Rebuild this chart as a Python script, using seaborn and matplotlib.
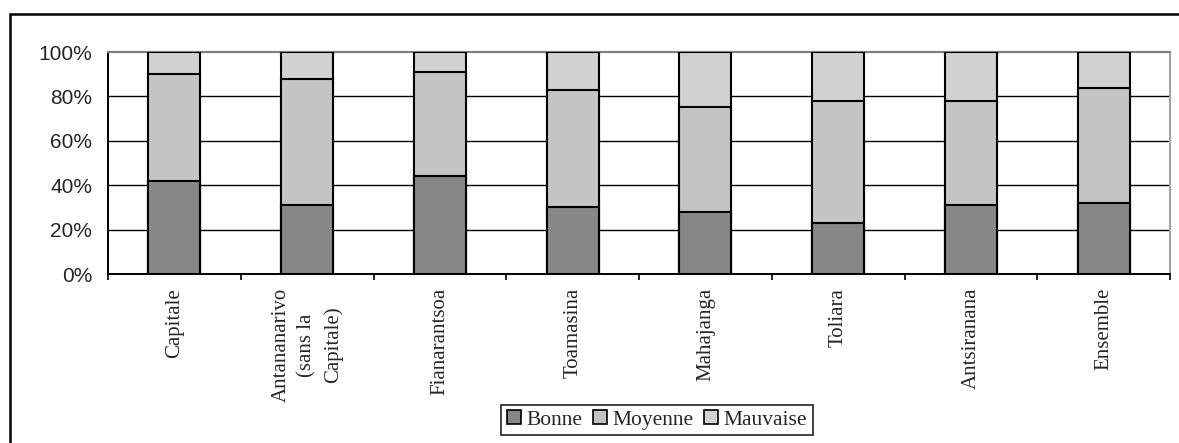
import matplotlib
matplotlib.use("Agg")
import matplotlib.pyplot as plt
from matplotlib.lines import Line2D
from matplotlib.patches import Patch
from matplotlib.ticker import FixedLocator, PercentFormatter
import seaborn as sns
import pandas as pd

# Répartition (%) de l'appréciation par province
regions = ["Capitale", "Antananarivo\n(sans la\nCapitale)", "Fianarantsoa",
           "Toamasina", "Mahajanga", "Toliara", "Antsiranana", "Ensemble"]
bonne = [42, 31, 44, 30, 28, 23, 31, 32]
moyenne = [48, 57, 47, 53, 47, 55, 47, 52]
mauvaise = [10, 12, 9, 17, 25, 22, 22, 16]

series = ["Bonne", "Moyenne", "Mauvaise"]
colors = {"Bonne": "#878787", "Moyenne": "#c4c4c4", "Mauvaise": "#d1d1d1"}

df = pd.DataFrame({"region": regions, "Bonne": bonne,
                   "Moyenne": moyenne, "Mauvaise": mauvaise})
df["cum_moyenne"] = df["Bonne"] + df["Moyenne"]
df["cum_mauvaise"] = df["cum_moyenne"] + df["Mauvaise"]

sns.set_style("white")
plt.rcParams["font.family"] = ["Liberation Sans", "DejaVu Sans"]

fig = plt.figure(figsize=(11.79, 4.43), dpi=100, facecolor="white")
ax = fig.add_axes([108 / 1179, 1 - 274 / 443, (1170 - 108) / 1179, 222 / 443])

# Stacked bars: draw cumulative totals from the top segment down
for col, name in [("cum_mauvaise", "Mauvaise"), ("cum_moyenne", "Moyenne"), ("Bonne", "Bonne")]:
    sns.barplot(data=df, x="region", y=col, color=colors[name], width=0.39,
                edgecolor="black", linewidth=1.5, saturation=1, ax=ax, zorder=3)

ax.set_xlim(-0.5, len(regions) - 0.5)
ax.set_ylim(0, 100)
ax.set_xlabel("")
ax.set_ylabel("")

# Horizontal grid lines
ax.set_yticks([0, 20, 40, 60, 80, 100])
ax.yaxis.set_major_formatter(PercentFormatter(decimals=0))
for v in [20, 40, 60, 80]:
    ax.axhline(v, color="black", linewidth=1.0, zorder=1)

# Plot-area border: grey top and right, black axes on left and bottom
ax.spines["top"].set_color("#808080")
ax.spines["top"].set_linewidth(1.6)
ax.spines["right"].set_color("#a0a0a0")
ax.spines["right"].set_linewidth(1.4)
ax.spines["left"].set_color("black")
ax.spines["left"].set_linewidth(1.4)
ax.spines["bottom"].set_color("black")
ax.spines["bottom"].set_linewidth(1.4)

ax.tick_params(axis="y", direction="out", length=4.5, width=1.2, color="black",
               labelsize=15, pad=7)
ax.xaxis.set_minor_locator(FixedLocator([i - 0.5 for i in range(len(regions) + 1)]))
ax.tick_params(axis="x", which="minor", direction="out", length=4.5, width=1.2,
               color="black", bottom=True)
ax.set_xticks(range(len(regions)))
ax.tick_params(axis="x", which="major", length=0, pad=10)
ax.set_xticklabels(regions, rotation=90, fontsize=15, family="Liberation Serif",
                   multialignment="center", linespacing=1.45)

# Legend
handles = [Patch(facecolor=colors[s], edgecolor="black", linewidth=1.2, label=s) for s in series]
leg = fig.legend(handles=handles, loc="center", bbox_to_anchor=(657 / 1179, 1 - 420 / 443),
                 ncol=3, frameon=True, fancybox=False, edgecolor="black",
                 prop={"family": "Liberation Serif", "size": 15.5},
                 handlelength=0.65, handleheight=0.65, handletextpad=0.25,
                 columnspacing=0.5, borderpad=0.25, borderaxespad=0)
leg.get_frame().set_linewidth(1.3)

# Outer frame of the chart area (left and top edges)
x0, y0 = 10 / 1179, 1 - 14 / 443
fig.add_artist(Line2D([x0, x0], [0, y0], transform=fig.transFigure, color="black",
                      linewidth=1.8))
fig.add_artist(Line2D([x0, 1178.5 / 1179], [y0, y0], transform=fig.transFigure,
                      color="black", linewidth=1.8))

fig.savefig("out.png", dpi=100, facecolor="white")
